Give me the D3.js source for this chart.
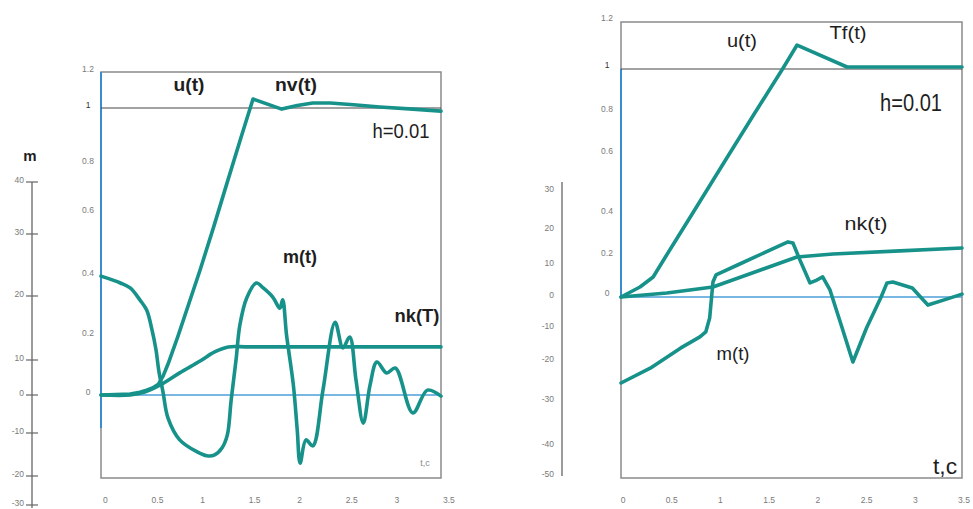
<!DOCTYPE html>
<html><head><meta charset="utf-8">
<script src="https://cdn.jsdelivr.net/npm/d3@7"></script>
<style>body{margin:0;background:#fff;} svg{display:block}</style>
</head><body><svg id="c" width="973" height="509"></svg>
<script>
// ---------- data ----------
const xTicks = [0, 0.5, 1, 1.5, 2, 2.5, 3, 3.5];
const xTickLabels = ["0", "0.5", "1", "1.5", "2", "2.5", "3", "3.5"];
const yTicks = [0, 0.2, 0.4, 0.6, 0.8, 1, 1.2];
const yTickLabels = ["0", "0.2", "0.4", "0.6", "0.8", "1", "1.2"];
const mTicksLeft = [40, 30, 20, 10, 0, -10, -20, -30];
const mTicksRight = [30, 20, 10, 0, -10, -20, -30, -40, -50];

// left panel
const leftUT = [0, 0.30, 0.40, 0.47, 0.53, 0.59, 0.64, 0.69, 0.79, 1.02, 1.156, 1.297, 1.43, 1.565, 1.86, 2.02, 2.18, 2.36, 2.6, 2.87, 3.21, 3.5];
const leftU  = [0, 0.003, 0.009, 0.016, 0.024, 0.036, 0.065, 0.105, 0.197, 0.419, 0.552, 0.722, 0.882, 1.05, 0.996, 1.014, 1.028, 1.028, 1.018, 1.006, 0.996, 0.989];
const leftNkT = [0, 0.3, 0.45, 0.61, 0.81, 1.02, 1.17, 1.31, 1.53, 3.5];
const leftNk  = [0, 0, 0.01, 0.034, 0.075, 0.115, 0.146, 0.163, 0.163, 0.163];
const leftMT = [0, 0.2, 0.3, 0.4, 0.47, 0.525, 0.566, 0.597, 0.638, 0.69, 0.81, 0.99, 1.09, 1.17, 1.245, 1.30, 1.34, 1.39, 1.43, 1.50, 1.60, 1.67, 1.77, 1.84, 1.87, 1.91, 1.98, 2.02, 2.05, 2.11, 2.18, 2.285, 2.41, 2.49, 2.56, 2.625, 2.70, 2.77, 2.84, 2.94, 3.03, 3.21, 3.36, 3.5];
const leftM  = [23.2, 22.1, 21.3, 19.4, 17.8, 14.7, 11.6, 6.6, 0.9, -6.1, -11.6, -14.4, -15.3, -15.1, -13.5, -10.5, -1.3, 10, 15.5, 19.7, 22.1, 21.3, 19.8, 18.1, 19.4, 13.9, 2.9, -9.2, -17.0, -11.6, -13.0, 1.4, 15.9, 11.9, 13.6, 4.3, -7.4, 2.9, 9.4, 6.3, 7.7, -4.7, 1.4, -0.3];

// right panel
const rightUT = [0, 0.195, 0.33, 0.456, 0.534, 0.724, 0.924, 1.105, 1.373, 1.658, 1.807, 2.32, 3.5];
const rightU  = [0, 0.05, 0.1, 0.2, 0.258, 0.4, 0.505, 0.6, 0.8, 1.0, 1.102, 1.0085, 1.0085];
const rightNkT = [0, 0.47, 0.944, 1.375, 1.806, 2.176, 2.864, 3.5];
const rightNk  = [0, 0.02, 0.05, 0.125, 0.2, 0.214, 0.229, 0.243];
const rightMT = [0, 0.30, 0.61, 0.81, 0.87, 0.91, 0.944, 0.975, 1.037, 1.196, 1.714, 1.765, 1.837, 1.94, 2.01, 2.07, 2.145, 2.27, 2.38, 2.52, 2.67, 2.73, 2.79, 2.99, 3.15, 3.35, 3.5];
const rightM  = [-25.5, -21.8, -16.1, -12.7, -11.2, -6.8, 4.7, 6.9, 7.8, 10, 16.6, 16.3, 11.4, 4.4, 5.3, 6.3, 2.2, -10, -20.25, -10, 0, 4.4, 4.7, 2.8, -2.6, -0.6, 0.9];

// ---------- drawing ----------
const svg = d3.select("#c");
const TEAL = "#17928a", BLUE = "#4a9fd8", BOX = "#8a8a8a", TICK = "#7a7a7a";
const FONT = "'Liberation Sans Narrow','Liberation Sans',Arial,sans-serif";

function panel(cfg) {
  const g = svg.append("g");
  const x = d3.scaleLinear().domain([0, 3.5]).range(cfg.xr);
  const y = d3.scaleLinear().domain(yTicks).range(cfg.yr);
  const m = d3.scaleLinear().domain(cfg.mTicks).range(cfg.mr);
  const [x0, x1] = cfg.xr;
  const top = y(1.2), bottom = cfg.bottom;

  g.append("rect").attr("x", x0).attr("y", top).attr("width", x1 - x0).attr("height", bottom - top)
    .attr("fill", "none").attr("stroke", BOX).attr("stroke-width", 1.5);
  g.append("line").attr("x1", x0).attr("x2", x0).attr("y1", cfg.blueTop).attr("y2", cfg.blueBottom)
    .attr("stroke", "#3a8cd0").attr("stroke-width", 2);
  g.append("line").attr("x1", x0).attr("x2", x1).attr("y1", y(1)).attr("y2", y(1))
    .attr("stroke", "#444").attr("stroke-width", 1);
  g.append("line").attr("x1", x0).attr("x2", x1).attr("y1", y(0)).attr("y2", y(0))
    .attr("stroke", BLUE).attr("stroke-width", 1.6);

  g.selectAll(".xt").data(xTicks).join("text")
    .attr("x", d => x(d) + cfg.xLabDx).attr("y", 503)
    .attr("text-anchor", cfg.xLabAnchor).attr("font-size", 8.5).attr("fill", TICK)
    .attr("font-family", FONT).text((d, i) => xTickLabels[i]);
  g.selectAll(".yt").data(yTicks).join("text")
    .attr("x", cfg.yLabX).attr("y", d => y(d) - cfg.yLabUp)
    .attr("text-anchor", "middle").attr("dominant-baseline", "central")
    .attr("font-size", 8.5).attr("fill", d => d === 1 ? "#333" : TICK)
    .attr("font-family", FONT).text((d, i) => yTickLabels[i]);

  g.append("line").attr("x1", cfg.mAxisX).attr("x2", cfg.mAxisX).attr("y1", cfg.mAxisTop).attr("y2", cfg.mAxisBottom)
    .attr("stroke", "#666").attr("stroke-width", 1.3);
  if (cfg.mTickMarks) {
    g.selectAll(".mtk").data(cfg.mTicks).join("line")
      .attr("x1", cfg.mAxisX - 6).attr("x2", cfg.mAxisX + 6)
      .attr("y1", d => m(d)).attr("y2", d => m(d)).attr("stroke", "#666").attr("stroke-width", 1.2);
  }
  g.selectAll(".mt").data(cfg.mTicks).join("text")
    .attr("x", cfg.mLabX).attr("y", d => m(d) - 2)
    .attr("text-anchor", "end").attr("dominant-baseline", "central")
    .attr("font-size", 8.5).attr("fill", TICK).attr("font-family", FONT).text(d => d);

  const mk = (curve, sc) => d3.line().x(d => x(d[0])).y(d => sc(d[1])).curve(curve);
  const pathStyle = p => p.attr("fill", "none").attr("stroke", TEAL).attr("stroke-width", 3.6)
    .attr("stroke-linejoin", "round").attr("stroke-linecap", "round");
  g.append("path").datum(d3.zip(cfg.nkT, cfg.nk)).attr("d", mk(cfg.nkCurve, y)).call(pathStyle);
  g.append("path").datum(d3.zip(cfg.mT, cfg.mv)).attr("d", mk(cfg.mCurve, m)).call(pathStyle);
  g.append("path").datum(d3.zip(cfg.uT, cfg.u)).attr("d", mk(d3.curveLinear, y)).call(pathStyle);

  cfg.labels.forEach(l => {
    const t = g.append("text").attr("x", l.x).attr("y", l.y)
      .attr("text-anchor", "middle").attr("dominant-baseline", "central")
      .attr("font-size", l.size).attr("font-weight", l.bold ? "bold" : "normal")
      .attr("fill", l.color || "#1e1e1e").attr("font-family", FONT).text(l.text);
    if (l.w) t.attr("textLength", l.w).attr("lengthAdjust", "spacingAndGlyphs");
  });
  return g;
}

panel({
  xr: [101, 441], yr: [395, 336, 276, 213, 164, 108, 72], bottom: 478,
  mTicks: mTicksLeft, mr: [182, 234, 296, 360, 395, 433, 476, 505],
  blueTop: 72, blueBottom: 428,
  xLabDx: 2, xLabAnchor: "start", yLabX: 88, yLabUp: 3,
  mAxisX: 32, mAxisTop: 182, mAxisBottom: 508, mTickMarks: true, mLabX: 24,
  nkCurve: d3.curveCatmullRom.alpha(0.5), mCurve: d3.curveCatmullRom.alpha(0.5),
  uT: leftUT, u: leftU, nkT: leftNkT, nk: leftNk, mT: leftMT, mv: leftM,
  labels: [
    {text: "u(t)", x: 189, y: 84, size: 19, bold: true, w: 31},
    {text: "nv(t)", x: 296, y: 84, size: 19, bold: true, w: 42},
    {text: "h=0.01", x: 401, y: 130, size: 21, w: 57},
    {text: "m(t)", x: 300, y: 256, size: 19, bold: true, w: 34},
    {text: "nk(T)", x: 417, y: 315, size: 19, bold: true, w: 45},
    {text: "t,c", x: 425, y: 463, size: 9, color: "#888"},
    {text: "m", x: 30, y: 155, size: 15, bold: true}
  ]
});

panel({
  xr: [621, 962], yr: [297, 257, 215, 155, 113, 69, 22], bottom: 478,
  mTicks: mTicksRight, mr: [191, 230, 265, 297, 328, 361, 401, 446, 476],
  blueTop: 69, blueBottom: 297,
  xLabDx: 2, xLabAnchor: "middle", yLabX: 607, yLabUp: 4,
  mAxisX: 562, mAxisTop: 182, mAxisBottom: 476, mTickMarks: false, mLabX: 554,
  nkCurve: d3.curveLinear, mCurve: d3.curveLinear,
  uT: rightUT, u: rightU, nkT: rightNkT, nk: rightNk, mT: rightMT, mv: rightM,
  labels: [
    {text: "u(t)", x: 742, y: 40, size: 19, w: 30},
    {text: "Tf(t)", x: 848, y: 32, size: 19, w: 37},
    {text: "h=0.01", x: 911, y: 103, size: 23, w: 62},
    {text: "nk(t)", x: 866, y: 223, size: 19, w: 43},
    {text: "m(t)", x: 733, y: 353, size: 19, w: 33},
    {text: "t,c", x: 945, y: 466, size: 22, w: 24}
  ]
});
</script>
</body></html>
